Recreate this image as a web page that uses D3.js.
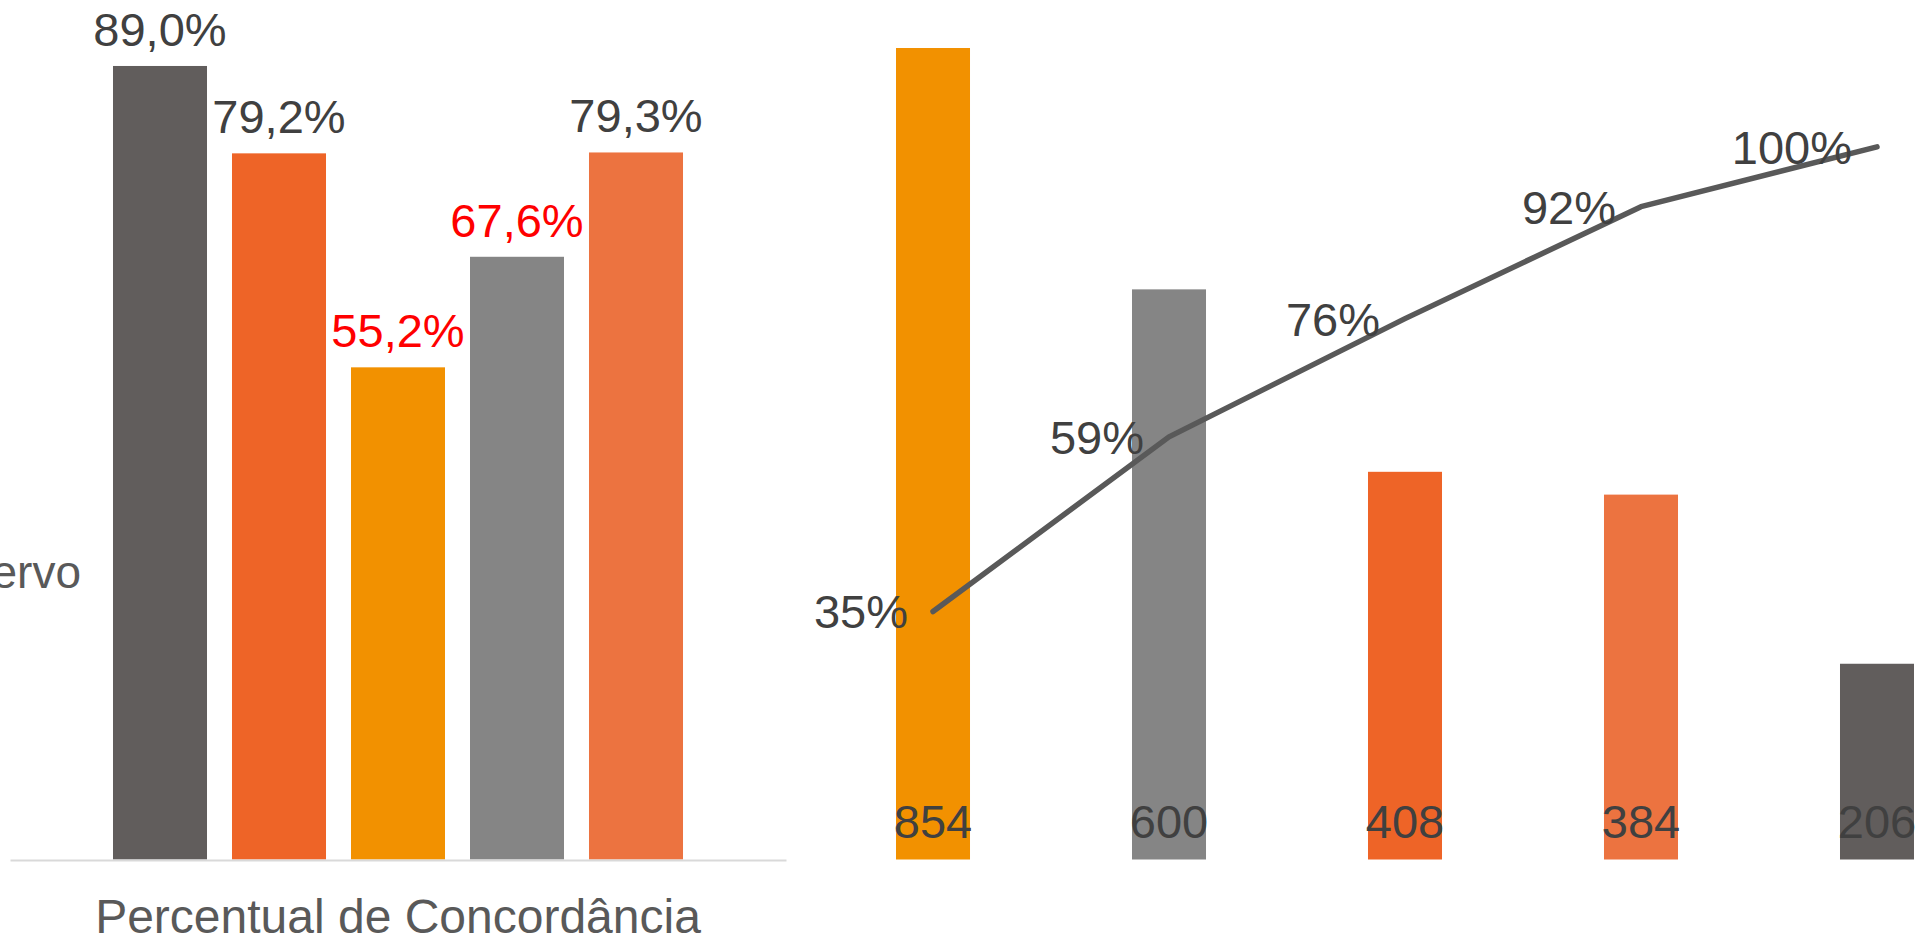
<!DOCTYPE html>
<html><head><meta charset="utf-8">
<script src="https://cdn.jsdelivr.net/npm/d3@7"></script>
<style>html,body{margin:0;padding:0;background:#fff;overflow:hidden}svg{display:block}</style>
</head><body><svg id="c" width="1929" height="938"></svg>
<script>
// ---- Left chart data ----
const leftCategory = ["Percentual de Concordância"];
const leftSeries = ["S1", "S2", "S3", "S4", "S5"];
const leftValues = [89.0, 79.2, 55.2, 67.6, 79.3];
const leftColors = ["#615D5C", "#EE6427", "#F29100", "#858585", "#EC7340"];
const leftLabelColors = ["#404040", "#404040", "#FF0000", "#FF0000", "#404040"];
const leftLegendText = "Acervo";

// ---- Right chart data ----
const rightCategories = ["C1", "C2", "C3", "C4", "C5"];
const rightCounts = [854, 600, 408, 384, 206];
const rightColors = ["#F29100", "#858585", "#EE6427", "#EC7340", "#615D5C"];
const rightCumulative = [34.8, 59.3, 75.9, 91.6, 100];

const FONT = "'Liberation Sans', Arial, sans-serif";
const svg = d3.select("#c");
const base = 859.5;

const ptBR = d3.formatLocale({decimal: ",", thousands: ".", grouping: [3], currency: ["R$", ""]});
const fmt1 = v => ptBR.format(".1f")(v) + "%";
const fmt0 = v => d3.format(".0f")(v) + "%";

// ---------- LEFT ----------
const x0 = d3.scaleBand().domain(leftCategory).range([10, 786]).paddingInner(0).paddingOuter(0);
const x1 = d3.scaleBand().domain(leftSeries).range([0, x0.bandwidth()]).paddingInner(0.21).paddingOuter(0.8655);
const yL = d3.scaleLinear().domain([0, 100]).range([base, -32.1]);

const gL = svg.append("g");
const rows = leftSeries.map((s, i) => ({s, v: leftValues[i], c: leftColors[i], lc: leftLabelColors[i]}));
gL.selectAll("rect").data(rows).join("rect")
  .attr("x", d => x0(leftCategory[0]) + x1(d.s))
  .attr("y", d => yL(d.v))
  .attr("width", x1.bandwidth())
  .attr("height", d => base - yL(d.v))
  .attr("fill", d => d.c);
gL.selectAll("text.lbl").data(rows).join("text").attr("class", "lbl")
  .attr("x", d => x0(leftCategory[0]) + x1(d.s) + x1.bandwidth() / 2)
  .attr("y", d => yL(d.v) - 20)
  .attr("text-anchor", "middle")
  .attr("font-family", FONT).attr("font-size", 47)
  .attr("fill", d => d.lc)
  .text(d => fmt1(d.v));

const axL = gL.append("g").attr("transform", `translate(0,${base + 0.5})`)
  .call(d3.axisBottom(x0).tickSize(0).tickSizeOuter(0));
axL.select(".domain").attr("stroke", "#D9D9D9").attr("stroke-width", 2);
axL.selectAll(".tick text").attr("y", 73).attr("dy", 0)
  .attr("font-family", FONT).attr("font-size", 48).attr("fill", "#595959");

svg.append("text").attr("x", 81).attr("y", 588).attr("text-anchor", "end")
  .attr("font-family", FONT).attr("font-size", 46).attr("fill", "#595959")
  .text(leftLegendText);

// ---------- RIGHT ----------
const xR = d3.scaleBand().domain(rightCategories).range([778, 2032]).paddingInner(0.6864).paddingOuter(0.5);
const yR = d3.scaleLinear().domain([0, 900]).range([base, 4.3]);
const yP = d3.scaleLinear().domain([0, 120]).range([base, 4.3]);

const gR = svg.append("g");
const rrows = rightCategories.map((c, i) => ({c, v: rightCounts[i], col: rightColors[i], p: rightCumulative[i]}));
gR.selectAll("rect").data(rrows).join("rect")
  .attr("x", d => xR(d.c))
  .attr("y", d => yR(d.v))
  .attr("width", xR.bandwidth())
  .attr("height", d => base - yR(d.v))
  .attr("fill", d => d.col);
gR.selectAll("text.cnt").data(rrows).join("text").attr("class", "cnt")
  .attr("x", d => xR(d.c) + xR.bandwidth() / 2)
  .attr("y", 838)
  .attr("text-anchor", "middle")
  .attr("font-family", FONT).attr("font-size", 47).attr("fill", "#404040")
  .text(d => d.v);

const line = d3.line().x(d => xR(d.c) + xR.bandwidth() / 2).y(d => yP(d.p));
gR.append("path").datum(rrows).attr("d", line)
  .attr("fill", "none").attr("stroke", "#595959").attr("stroke-width", 5.5)
  .attr("stroke-linecap", "round").attr("stroke-linejoin", "round");
gR.selectAll("text.pct").data(rrows).join("text").attr("class", "pct")
  .attr("x", d => xR(d.c) + xR.bandwidth() / 2 - 25)
  .attr("y", d => yP(d.p) + 17)
  .attr("text-anchor", "end")
  .attr("font-family", FONT).attr("font-size", 47).attr("fill", "#404040")
  .text(d => fmt0(d.p));
</script></body></html>
